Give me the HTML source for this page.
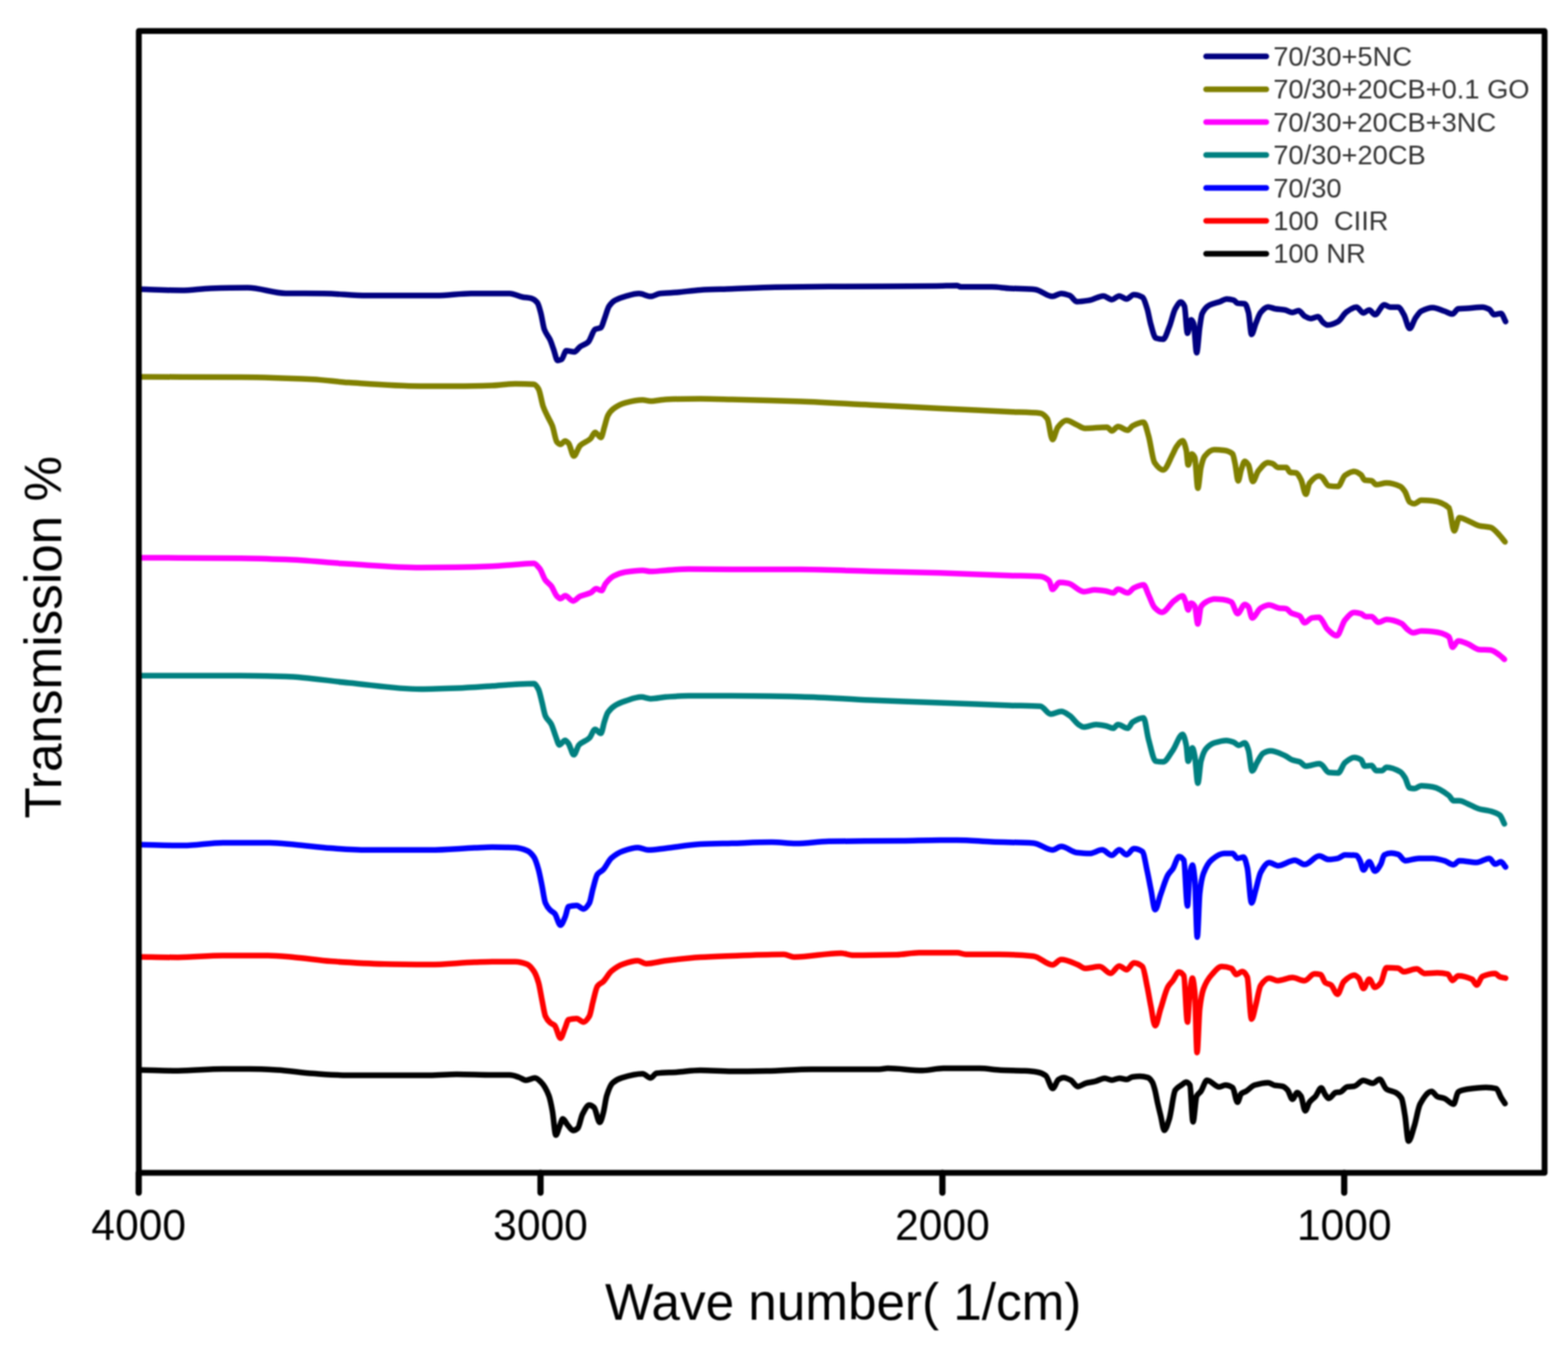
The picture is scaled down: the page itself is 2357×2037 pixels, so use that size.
<!DOCTYPE html>
<html><head><meta charset="utf-8"><title>FTIR spectra</title>
<style>
html,body{margin:0;padding:0;background:#fff;}
body{width:2357px;height:2037px;overflow:hidden;}
svg{display:block;filter:blur(0.8px);}
text{font-family:"Liberation Sans",Arial,Helvetica,sans-serif;}
</style></head><body>
<svg width="2357" height="2037" viewBox="0 0 2357 2037">
<rect x="0" y="0" width="2357" height="2037" fill="#ffffff"/>

<g fill="none" stroke-width="8.5" stroke-linejoin="round" stroke-linecap="round">
<path stroke="#000080" d="M210.4,434.7C231.3,435.3 252.1,436.5 273.0,436.5C287.7,436.5 302.3,433.8 317.0,433.4C335.3,432.9 353.7,432.6 372.0,432.6C391.1,432.6 410.2,440.7 429.3,440.9C448.4,441.1 467.6,441.0 486.7,441.2C508.4,441.4 530.1,444.3 551.8,444.3C586.5,444.3 621.3,444.3 656.0,444.3C673.3,444.3 690.7,441.2 708.0,441.2C718.7,441.2 729.3,441.3 740.0,441.3C748.7,441.3 757.3,441.3 766.0,441.3C772.4,441.3 778.8,445.3 785.2,446.5C789.8,447.4 794.4,447.4 799.0,448.6C801.9,449.4 804.9,451.5 807.8,455.2C809.5,457.4 811.3,464.5 813.0,470.8C814.7,477.1 816.5,490.4 818.2,495.1C821.1,502.9 824.0,504.4 826.9,510.8C828.6,514.6 830.3,520.0 832.0,524.7C834.1,530.4 836.1,542.0 838.2,542.0C840.2,542.0 842.2,541.3 844.2,540.3C846.5,539.2 848.9,527.3 851.2,527.3C855.3,527.3 859.3,529.0 863.4,529.0C866.3,529.0 869.1,523.2 872.0,521.2C876.1,518.3 880.1,517.8 884.2,514.2C887.7,511.1 891.1,496.8 894.6,495.1C897.5,493.6 900.4,494.2 903.3,492.5C905.0,491.5 906.8,484.0 908.5,479.5C910.8,473.4 913.2,463.9 915.5,460.4C918.4,456.1 921.3,453.4 924.2,451.7C929.4,448.7 934.6,447.0 939.8,445.6C946.7,443.7 953.7,441.3 960.6,441.3C966.4,441.3 972.2,445.6 978.0,445.6C982.6,445.6 987.3,441.9 991.9,441.3C1000.6,440.3 1009.3,440.2 1018.0,439.5C1029.6,438.6 1041.1,436.6 1052.7,436.0C1068.5,435.1 1084.2,434.9 1100.0,434.3C1121.7,433.5 1143.3,432.2 1165.0,431.8C1192.0,431.3 1219.0,431.0 1246.0,430.8C1299.8,430.4 1353.7,430.5 1407.5,430.0C1417.9,429.9 1428.4,429.2 1438.8,429.2C1440.5,429.2 1442.3,431.3 1444.0,431.3C1459.7,431.3 1475.3,431.3 1491.0,431.3C1499.7,431.3 1508.3,432.9 1517.0,433.4C1530.0,434.2 1543.0,434.1 1556.0,435.2C1564.7,436.0 1573.3,445.6 1582.0,445.6C1586.3,445.6 1590.7,441.2 1595.0,441.2C1599.3,441.2 1603.7,442.7 1608.0,444.3C1611.5,445.6 1615.1,453.4 1618.6,453.4C1625.2,453.4 1631.7,452.3 1638.3,451.3C1645.0,450.2 1651.8,444.9 1658.5,444.9C1662.8,444.9 1667.0,450.4 1671.3,450.4C1675.0,450.4 1678.7,444.9 1682.4,444.9C1686.1,444.9 1689.7,449.5 1693.4,449.5C1697.1,449.5 1700.7,443.1 1704.4,443.1C1708.7,443.1 1712.9,444.4 1717.2,446.8C1719.6,448.2 1722.1,456.6 1724.5,464.2C1726.3,469.9 1728.2,481.8 1730.0,488.0C1732.5,496.4 1734.9,507.4 1737.4,508.2C1741.1,509.4 1744.7,510.0 1748.4,510.0C1751.4,510.0 1754.5,499.0 1757.5,491.7C1760.6,484.3 1763.6,469.5 1766.7,464.2C1769.5,459.4 1772.2,454.1 1775.0,454.1C1776.8,454.1 1778.7,456.6 1780.5,460.5C1782.0,463.7 1783.5,500.9 1785.0,500.9C1786.8,500.9 1788.7,480.7 1790.5,480.7C1791.7,480.7 1793.0,483.1 1794.2,486.2C1795.7,490.0 1797.3,530.2 1798.8,530.2C1800.3,530.2 1801.9,501.9 1803.4,491.7C1804.6,483.7 1805.8,474.1 1807.0,471.5C1810.7,463.6 1814.3,460.7 1818.0,458.7C1823.5,455.7 1829.1,455.2 1834.6,453.2C1837.6,452.1 1840.7,449.5 1843.7,449.5C1847.4,449.5 1851.0,450.2 1854.7,451.3C1856.5,451.8 1858.4,455.6 1860.2,455.9C1863.9,456.5 1867.5,456.2 1871.2,456.8C1873.0,457.1 1874.9,463.1 1876.7,469.7C1878.2,475.2 1879.8,502.7 1881.3,502.7C1883.4,502.7 1885.6,491.3 1887.7,486.2C1890.1,480.3 1892.6,472.5 1895.0,469.7C1898.7,465.4 1902.3,461.4 1906.0,461.4C1909.7,461.4 1913.3,463.6 1917.0,464.2C1921.9,465.0 1926.9,465.1 1931.8,466.0C1935.5,466.7 1939.1,469.7 1942.8,469.7C1945.9,469.7 1948.9,466.9 1952.0,466.9C1955.0,466.9 1958.0,473.5 1961.0,475.2C1964.1,476.9 1967.2,478.9 1970.3,478.9C1974.0,478.9 1977.6,476.1 1981.3,476.1C1983.7,476.1 1986.2,482.5 1988.6,484.4C1990.9,486.2 1993.3,488.6 1995.6,488.6C2000.8,488.6 2006.1,486.2 2011.3,483.4C2015.3,481.3 2019.4,472.4 2023.4,469.5C2028.6,465.8 2033.8,461.7 2039.0,461.7C2042.5,461.7 2046.0,470.4 2049.5,470.4C2052.4,470.4 2055.3,466.0 2058.2,466.0C2061.1,466.0 2064.0,473.0 2066.9,473.0C2071.5,473.0 2076.2,458.2 2080.8,458.2C2083.7,458.2 2086.6,461.7 2089.5,461.7C2093.5,461.7 2097.6,461.7 2101.6,461.7C2104.5,461.7 2107.4,468.1 2110.3,473.0C2113.2,477.9 2116.1,493.8 2119.0,493.8C2121.9,493.8 2124.8,482.4 2127.7,478.2C2130.6,474.0 2133.5,469.3 2136.4,467.8C2142.2,464.8 2147.9,462.5 2153.7,462.5C2159.5,462.5 2165.3,465.9 2171.1,467.8C2175.2,469.1 2179.2,472.1 2183.3,472.1C2186.2,472.1 2189.1,464.7 2192.0,464.3C2196.6,463.7 2201.3,463.7 2205.9,463.4C2213.4,462.9 2220.9,461.7 2228.4,461.7C2231.9,461.7 2235.4,463.3 2238.9,465.1C2241.2,466.3 2243.5,473.0 2245.8,473.0C2249.3,473.0 2252.7,471.2 2256.2,471.2C2258.5,471.2 2260.9,479.3 2263.2,483.4"/>
<path stroke="#808000" d="M210.8,566.5C261.2,566.7 311.6,566.7 362.0,567.0C398.0,567.2 434.0,568.6 470.0,570.3C488.0,571.2 506.0,573.9 524.0,575.1C560.0,577.5 596.0,580.5 632.0,580.5C650.2,580.5 668.3,580.5 686.5,580.5C704.3,580.5 722.2,580.1 740.0,579.5C751.6,579.1 763.1,576.9 774.7,576.9C784.0,576.9 793.2,577.1 802.5,577.8C804.8,578.0 807.2,581.0 809.5,584.7C811.8,588.3 814.1,604.3 816.4,610.8C818.7,617.3 821.1,621.5 823.4,626.4C825.7,631.3 828.0,634.4 830.3,640.3C832.6,646.3 835.0,662.2 837.3,664.7C839.0,666.5 840.8,668.1 842.5,668.1C844.8,668.1 847.2,662.9 849.5,662.9C851.2,662.9 853.0,664.6 854.7,666.4C857.3,669.0 859.9,685.5 862.5,685.5C865.7,685.5 868.8,673.0 872.0,669.9C877.2,664.8 882.5,664.4 887.7,659.5C890.0,657.3 892.3,649.9 894.6,649.9C897.5,649.9 900.4,657.7 903.3,657.7C905.0,657.7 906.8,647.6 908.5,642.1C910.2,636.6 912.0,627.9 913.7,624.7C916.6,619.4 919.5,616.4 922.4,614.3C928.2,610.0 934.0,607.1 939.8,605.6C948.5,603.4 957.2,601.3 965.9,601.3C969.9,601.3 974.0,603.0 978.0,603.0C985.5,603.0 993.1,600.7 1000.6,600.4C1018.0,599.8 1035.3,599.5 1052.7,599.5C1068.5,599.5 1084.2,600.1 1100.0,600.5C1134.7,601.3 1169.5,602.2 1204.2,603.5C1239.0,604.8 1273.7,607.0 1308.5,608.7C1343.2,610.4 1378.0,612.2 1412.7,613.9C1447.5,615.6 1482.2,617.5 1517.0,619.1C1532.6,619.8 1548.3,619.6 1563.9,621.2C1567.4,621.6 1570.8,624.7 1574.3,629.5C1576.9,633.1 1579.5,660.8 1582.1,660.8C1584.7,660.8 1587.4,645.8 1590.0,642.5C1594.3,637.1 1598.7,632.1 1603.0,632.1C1608.2,632.1 1613.4,636.4 1618.6,638.6C1622.7,640.4 1626.9,644.0 1631.0,644.0C1642.0,644.0 1653.0,642.2 1664.0,642.2C1666.4,642.2 1668.9,647.7 1671.3,647.7C1674.4,647.7 1677.4,641.3 1680.5,641.3C1685.4,641.3 1690.3,646.8 1695.2,646.8C1697.6,646.8 1700.1,641.6 1702.5,640.3C1708.0,637.5 1713.5,634.8 1719.0,634.8C1721.5,634.8 1723.9,646.7 1726.4,655.0C1729.4,665.2 1732.5,690.9 1735.5,695.4C1739.8,701.8 1744.1,706.4 1748.4,706.4C1753.3,706.4 1758.1,691.4 1763.0,682.5C1764.8,679.1 1766.7,674.0 1768.5,671.5C1771.6,667.3 1774.6,662.4 1777.7,662.4C1779.5,662.4 1781.4,669.3 1783.2,677.0C1784.1,680.9 1785.1,699.0 1786.0,699.0C1787.8,699.0 1789.7,682.5 1791.5,682.5C1793.0,682.5 1794.5,684.7 1796.0,688.0C1797.5,691.3 1799.1,733.9 1800.6,733.9C1802.1,733.9 1803.7,709.2 1805.2,702.7C1807.0,695.0 1808.9,688.5 1810.7,686.2C1815.6,680.1 1820.5,676.1 1825.4,676.1C1830.3,676.1 1835.1,676.5 1840.0,677.0C1844.3,677.5 1848.6,678.6 1852.9,682.5C1854.1,683.6 1855.4,691.5 1856.6,697.2C1858.1,704.3 1859.7,722.9 1861.2,722.9C1862.7,722.9 1864.2,710.7 1865.7,706.4C1867.5,701.1 1869.4,693.5 1871.2,693.5C1873.0,693.5 1874.9,696.1 1876.7,699.0C1878.9,702.4 1881.0,723.8 1883.2,723.8C1885.9,723.8 1888.7,711.6 1891.4,708.2C1896.3,702.1 1901.1,695.4 1906.0,695.4C1908.5,695.4 1910.9,696.3 1913.4,697.2C1915.9,698.1 1918.3,702.7 1920.8,702.7C1925.1,702.7 1929.3,702.7 1933.6,702.7C1935.4,702.7 1937.3,709.6 1939.1,710.0C1942.2,710.7 1945.2,710.4 1948.3,711.0C1950.7,711.5 1953.2,716.4 1955.6,721.0C1958.1,725.6 1960.5,743.0 1963.0,743.0C1964.8,743.0 1966.6,728.9 1968.4,726.5C1973.3,720.0 1978.1,715.5 1983.0,715.5C1984.3,715.5 1985.7,716.5 1987.0,717.4C1990.5,719.6 1993.9,730.0 1997.4,730.4C2002.0,731.0 2006.7,731.3 2011.3,731.3C2014.8,731.3 2018.2,717.1 2021.7,714.7C2026.3,711.5 2031.0,708.7 2035.6,708.7C2039.1,708.7 2042.5,711.1 2046.0,713.9C2047.7,715.3 2049.5,721.4 2051.2,721.7C2054.7,722.3 2058.2,722.0 2061.7,722.6C2064.0,723.0 2066.3,728.6 2068.6,728.6C2073.8,728.6 2079.0,726.0 2084.2,726.0C2091.1,726.0 2098.1,728.1 2105.0,731.3C2107.3,732.4 2109.7,735.6 2112.0,739.1C2114.3,742.6 2116.7,753.2 2119.0,754.7C2121.3,756.2 2123.7,757.3 2126.0,757.3C2129.5,757.3 2132.9,752.1 2136.4,752.1C2142.2,752.1 2147.9,752.5 2153.7,753.0C2161.8,753.7 2169.9,756.1 2178.0,763.4C2180.6,765.8 2183.3,798.1 2185.9,798.1C2188.5,798.1 2191.1,778.2 2193.7,778.2C2197.8,778.2 2201.8,780.9 2205.9,782.5C2211.7,784.8 2217.4,789.0 2223.2,790.3C2229.0,791.6 2234.8,791.4 2240.6,792.9C2245.2,794.1 2249.9,800.3 2254.5,805.1C2257.1,807.8 2259.7,811.4 2262.3,814.6"/>
<path stroke="#FF00FF" d="M210.8,838.4C261.2,838.7 311.6,838.7 362.0,839.2C384.6,839.4 407.1,840.2 429.7,841.1C461.2,842.3 492.8,845.9 524.3,847.8C560.3,849.9 596.4,853.2 632.4,853.2C650.4,853.2 668.5,852.9 686.5,852.7C704.3,852.5 722.2,852.0 740.0,851.3C751.6,850.8 763.1,849.5 774.7,848.7C784.0,848.1 793.2,846.9 802.5,846.9C805.4,846.9 808.3,851.1 811.2,854.7C814.1,858.3 817.0,868.2 819.9,872.1C822.8,876.0 825.7,877.1 828.6,880.8C831.5,884.5 834.4,893.7 837.3,896.4C839.0,898.0 840.8,899.9 842.5,899.9C844.8,899.9 847.2,895.6 849.5,895.6C853.5,895.6 857.6,903.4 861.6,903.4C865.1,903.4 868.5,898.0 872.0,896.4C877.2,894.0 882.5,893.6 887.7,891.2C890.6,889.8 893.5,885.1 896.4,885.1C899.0,885.1 901.6,887.8 904.2,887.8C906.2,887.8 908.3,879.8 910.3,877.3C914.3,872.3 918.4,868.1 922.4,866.0C928.2,863.0 934.0,860.9 939.8,860.0C948.5,858.6 957.2,857.4 965.9,857.4C969.9,857.4 974.0,859.1 978.0,859.1C985.5,859.1 993.1,857.9 1000.6,857.4C1012.2,856.7 1023.7,855.6 1035.3,855.6C1056.9,855.6 1078.4,856.0 1100.0,856.0C1134.7,856.1 1169.5,856.0 1204.2,856.1C1239.0,856.2 1273.7,857.8 1308.5,858.7C1343.2,859.6 1378.0,860.3 1412.7,861.3C1447.5,862.3 1482.2,864.1 1517.0,865.2C1532.6,865.7 1548.3,865.5 1563.9,866.5C1568.3,866.8 1572.6,869.0 1577.0,873.0C1578.7,874.6 1580.4,886.0 1582.1,886.0C1585.6,886.0 1589.1,875.6 1592.6,875.6C1596.9,875.6 1601.3,876.2 1605.6,876.9C1613.5,878.1 1621.3,889.4 1629.2,889.4C1634.7,889.4 1640.2,886.7 1645.7,886.7C1651.2,886.7 1656.7,887.6 1662.2,888.5C1665.9,889.1 1669.5,891.3 1673.2,891.3C1675.6,891.3 1678.1,885.8 1680.5,885.8C1685.4,885.8 1690.3,891.3 1695.2,891.3C1698.3,891.3 1701.3,885.3 1704.4,883.9C1709.3,881.6 1714.1,879.3 1719.0,879.3C1721.5,879.3 1723.9,888.9 1726.4,894.0C1729.4,900.2 1732.5,910.2 1735.5,913.3C1739.2,917.1 1742.8,920.6 1746.5,920.6C1752.6,920.6 1758.8,907.5 1764.9,903.2C1769.2,900.2 1773.4,895.8 1777.7,895.8C1779.2,895.8 1780.8,901.2 1782.3,905.0C1783.5,908.1 1784.8,916.9 1786.0,916.9C1787.5,916.9 1789.0,906.8 1790.5,906.8C1792.3,906.8 1794.2,908.7 1796.0,911.4C1797.5,913.7 1799.1,938.0 1800.6,938.0C1802.1,938.0 1803.7,914.9 1805.2,912.3C1808.3,907.2 1811.3,905.6 1814.4,904.1C1818.1,902.3 1821.7,900.4 1825.4,900.4C1829.7,900.4 1833.9,900.8 1838.2,901.3C1842.5,901.8 1846.7,902.8 1851.0,905.0C1854.1,906.6 1857.1,922.4 1860.2,922.4C1863.9,922.4 1867.5,908.7 1871.2,908.7C1873.0,908.7 1874.9,910.3 1876.7,912.3C1878.5,914.3 1880.4,928.9 1882.2,928.9C1886.5,928.9 1890.7,916.5 1895.0,914.2C1899.3,911.9 1903.6,909.6 1907.9,909.6C1912.8,909.6 1917.7,913.6 1922.6,914.2C1926.3,914.7 1929.9,914.5 1933.6,915.1C1936.0,915.5 1938.5,920.2 1940.9,921.5C1945.2,923.8 1949.5,923.5 1953.8,926.1C1956.2,927.6 1958.7,936.2 1961.1,936.2C1964.8,936.2 1968.4,929.5 1972.1,928.9C1975.8,928.3 1979.4,927.9 1983.1,927.9C1984.4,927.9 1985.7,930.5 1987.0,932.1C1989.9,935.7 1992.7,943.1 1995.6,946.0C2000.2,950.6 2004.9,955.6 2009.5,955.6C2013.6,955.6 2017.6,936.8 2021.7,932.1C2026.3,926.8 2031.0,920.8 2035.6,920.8C2039.1,920.8 2042.5,921.6 2046.0,922.6C2048.3,923.3 2050.7,926.9 2053.0,926.9C2055.9,926.9 2058.8,926.9 2061.7,926.9C2065.1,926.9 2068.6,935.6 2072.0,935.6C2076.1,935.6 2080.1,931.3 2084.2,931.3C2091.7,931.3 2099.3,933.8 2106.8,937.3C2109.7,938.6 2112.6,943.8 2115.5,946.0C2118.4,948.2 2121.3,951.2 2124.2,951.2C2128.3,951.2 2132.3,948.6 2136.4,948.6C2142.2,948.6 2147.9,949.0 2153.7,949.5C2161.8,950.2 2169.9,951.6 2178.0,957.3C2179.8,958.5 2181.5,973.0 2183.3,973.0C2186.2,973.0 2189.1,963.4 2192.0,963.4C2196.6,963.4 2201.3,965.9 2205.9,967.7C2211.7,969.9 2217.4,975.9 2223.2,976.4C2229.0,976.9 2234.8,976.7 2240.6,977.3C2245.2,977.8 2249.9,981.8 2254.5,985.1C2256.8,986.7 2259.1,989.2 2261.4,991.2"/>
<path stroke="#008080" d="M210.8,1015.7C261.2,1015.7 311.6,1015.7 362.0,1015.7C384.6,1015.7 407.1,1016.3 429.7,1017.0C461.2,1018.0 492.8,1023.5 524.3,1026.5C560.3,1029.9 596.4,1036.0 632.4,1036.0C650.4,1036.0 668.5,1035.3 686.5,1034.6C704.3,1033.9 722.2,1032.5 740.0,1031.3C751.6,1030.5 763.1,1029.2 774.7,1028.7C784.0,1028.3 793.2,1027.8 802.5,1027.8C804.8,1027.8 807.2,1032.1 809.5,1036.5C811.2,1039.8 813.0,1049.0 814.7,1055.6C816.4,1062.2 818.2,1072.6 819.9,1076.4C822.8,1082.7 825.7,1083.2 828.6,1088.6C830.9,1093.0 833.3,1101.8 835.6,1107.7C837.3,1112.1 839.1,1119.9 840.8,1119.9C843.7,1119.9 846.6,1112.9 849.5,1112.9C851.2,1112.9 853.0,1115.8 854.7,1118.1C857.3,1121.5 859.9,1134.6 862.5,1134.6C865.1,1134.6 867.7,1122.6 870.3,1119.9C875.5,1114.5 880.7,1114.5 885.9,1109.5C888.8,1106.7 891.7,1096.4 894.6,1096.4C897.5,1096.4 900.4,1102.5 903.3,1102.5C905.0,1102.5 906.8,1090.3 908.5,1085.1C910.2,1079.9 912.0,1073.8 913.7,1071.2C917.2,1065.9 920.7,1063.0 924.2,1060.8C929.4,1057.5 934.6,1055.6 939.8,1053.9C947.9,1051.3 956.0,1047.8 964.1,1047.8C968.7,1047.8 973.4,1050.4 978.0,1050.4C985.5,1050.4 993.1,1048.4 1000.6,1047.8C1012.2,1047.0 1023.7,1046.0 1035.3,1046.0C1056.9,1046.0 1078.4,1046.0 1100.0,1046.0C1134.7,1046.0 1169.5,1046.7 1204.2,1047.4C1239.0,1048.1 1273.7,1051.1 1308.5,1052.6C1343.2,1054.1 1378.0,1055.2 1412.7,1056.5C1447.5,1057.8 1482.2,1059.3 1517.0,1060.4C1532.6,1060.9 1548.3,1060.7 1563.9,1061.7C1569.1,1062.0 1574.3,1073.4 1579.5,1073.4C1584.7,1073.4 1590.0,1069.5 1595.2,1069.5C1599.5,1069.5 1603.9,1073.1 1608.2,1076.0C1612.5,1078.9 1616.9,1086.3 1621.2,1089.1C1623.9,1090.8 1626.5,1093.0 1629.2,1093.0C1635.3,1093.0 1641.4,1089.3 1647.5,1089.3C1652.4,1089.3 1657.3,1090.3 1662.2,1091.2C1665.9,1091.9 1669.5,1094.8 1673.2,1094.8C1675.6,1094.8 1678.1,1089.3 1680.5,1089.3C1685.4,1089.3 1690.3,1094.8 1695.2,1094.8C1697.6,1094.8 1700.1,1087.2 1702.5,1085.7C1708.0,1082.2 1713.5,1079.3 1719.0,1079.3C1721.5,1079.3 1723.9,1102.4 1726.4,1111.3C1730.1,1124.5 1733.7,1143.8 1737.4,1144.4C1741.1,1145.0 1744.7,1145.3 1748.4,1145.3C1753.3,1145.3 1758.1,1134.6 1763.0,1127.9C1767.9,1121.2 1772.8,1104.0 1777.7,1104.0C1779.5,1104.0 1781.4,1111.9 1783.2,1120.5C1784.1,1124.9 1785.1,1144.4 1786.0,1144.4C1788.1,1144.4 1790.3,1124.2 1792.4,1124.2C1793.6,1124.2 1794.8,1131.0 1796.0,1137.0C1797.5,1144.6 1799.1,1177.4 1800.6,1177.4C1802.1,1177.4 1803.7,1150.3 1805.2,1144.4C1807.7,1134.9 1810.1,1128.9 1812.6,1126.0C1816.9,1121.0 1821.1,1118.2 1825.4,1116.8C1831.5,1114.9 1837.6,1113.2 1843.7,1113.2C1847.4,1113.2 1851.0,1114.6 1854.7,1115.9C1857.2,1116.8 1859.6,1120.5 1862.1,1120.5C1865.1,1120.5 1868.2,1116.8 1871.2,1116.8C1873.0,1116.8 1874.9,1122.4 1876.7,1127.9C1878.5,1133.4 1880.4,1159.0 1882.2,1159.0C1884.7,1159.0 1887.1,1150.2 1889.6,1146.2C1892.6,1141.3 1895.7,1134.1 1898.7,1132.4C1902.4,1130.4 1906.0,1128.8 1909.7,1128.8C1917.1,1128.8 1924.4,1132.9 1931.8,1136.1C1935.5,1137.7 1939.1,1141.2 1942.8,1142.5C1946.5,1143.8 1950.1,1143.9 1953.8,1145.3C1956.8,1146.5 1959.9,1151.7 1962.9,1151.7C1969.6,1151.7 1976.4,1148.0 1983.1,1148.0C1984.4,1148.0 1985.7,1149.1 1987.0,1150.0C1990.5,1152.3 1993.9,1160.9 1997.4,1161.3C2002.0,1161.8 2006.7,1162.1 2011.3,1162.1C2014.8,1162.1 2018.2,1149.4 2021.7,1146.5C2026.3,1142.6 2031.0,1138.7 2035.6,1138.7C2039.1,1138.7 2042.5,1140.0 2046.0,1142.1C2047.7,1143.1 2049.5,1151.7 2051.2,1151.7C2054.7,1151.7 2058.2,1150.8 2061.7,1150.8C2064.0,1150.8 2066.3,1158.6 2068.6,1158.6C2071.5,1158.6 2074.4,1158.6 2077.3,1158.6C2079.6,1158.6 2081.9,1153.4 2084.2,1153.4C2091.1,1153.4 2098.1,1156.3 2105.0,1160.4C2107.3,1161.8 2109.7,1165.4 2112.0,1169.1C2114.3,1172.8 2116.7,1184.1 2119.0,1184.7C2121.3,1185.3 2123.7,1185.6 2126.0,1185.6C2129.5,1185.6 2132.9,1181.2 2136.4,1181.2C2142.2,1181.2 2147.9,1182.0 2153.7,1183.0C2161.8,1184.4 2169.9,1189.7 2178.0,1196.0C2180.3,1197.8 2182.7,1203.8 2185.0,1203.8C2187.9,1203.8 2190.8,1203.8 2193.7,1203.8C2197.8,1203.8 2201.8,1206.6 2205.9,1208.2C2211.7,1210.5 2217.4,1214.4 2223.2,1216.0C2229.0,1217.6 2234.8,1217.9 2240.6,1219.5C2245.2,1220.8 2249.9,1222.0 2254.5,1225.5C2256.8,1227.2 2259.1,1234.2 2261.4,1238.6"/>
<path stroke="#0000FF" d="M210.8,1269.7C232.4,1270.2 254.1,1271.1 275.7,1271.1C295.5,1271.1 315.2,1267.0 335.0,1267.0C358.5,1267.0 381.9,1267.0 405.4,1267.0C418.0,1267.0 430.6,1268.7 443.2,1269.7C461.2,1271.2 479.3,1273.9 497.3,1275.1C515.3,1276.3 533.4,1277.8 551.4,1277.8C582.9,1277.8 614.5,1277.8 646.0,1277.8C668.5,1277.8 691.0,1275.6 713.5,1274.6C722.3,1274.2 731.2,1273.5 740.0,1273.5C751.6,1273.5 763.1,1273.8 774.7,1274.3C780.5,1274.6 786.3,1276.3 792.1,1278.7C795.6,1280.1 799.0,1283.3 802.5,1288.2C804.8,1291.5 807.2,1299.1 809.5,1307.3C811.2,1313.4 813.0,1323.3 814.7,1331.7C816.4,1340.1 818.2,1353.6 819.9,1357.7C822.2,1363.2 824.6,1365.8 826.9,1368.1C829.2,1370.4 831.5,1370.8 833.8,1373.3C836.7,1376.4 839.6,1390.7 842.5,1390.7C844.8,1390.7 847.2,1383.8 849.5,1378.6C851.2,1374.7 853.0,1363.4 854.7,1362.9C858.7,1361.7 862.8,1361.2 866.8,1361.2C870.3,1361.2 873.7,1366.4 877.2,1366.4C880.1,1366.4 883.0,1362.6 885.9,1357.7C887.6,1354.8 889.4,1343.1 891.1,1336.9C893.4,1328.5 895.8,1317.4 898.1,1314.3C901.0,1310.5 903.9,1310.2 906.8,1307.3C910.9,1303.2 914.9,1293.5 919.0,1290.0C924.8,1285.0 930.5,1281.5 936.3,1279.5C943.8,1276.9 951.4,1274.3 958.9,1274.3C964.1,1274.3 969.3,1277.8 974.5,1277.8C983.2,1277.8 991.9,1276.1 1000.6,1275.2C1018.0,1273.3 1035.3,1269.9 1052.7,1269.1C1068.5,1268.4 1084.2,1268.2 1100.0,1267.8C1120.0,1267.2 1140.0,1266.1 1160.0,1266.1C1172.1,1266.1 1184.3,1268.1 1196.4,1268.1C1212.9,1268.1 1229.5,1265.0 1246.0,1264.8C1282.5,1264.3 1318.9,1264.4 1355.4,1264.0C1374.5,1263.8 1393.6,1262.9 1412.7,1262.9C1421.4,1262.9 1430.1,1262.9 1438.8,1262.9C1456.2,1262.9 1473.6,1264.8 1491.0,1265.5C1511.8,1266.3 1532.7,1266.1 1553.5,1267.4C1563.0,1268.0 1572.6,1277.8 1582.1,1277.8C1586.5,1277.8 1590.8,1272.6 1595.2,1272.6C1603.0,1272.6 1610.8,1280.8 1618.6,1281.7C1625.2,1282.5 1631.7,1283.1 1638.3,1283.1C1644.4,1283.1 1650.6,1277.6 1656.7,1277.6C1661.6,1277.6 1666.4,1285.8 1671.3,1285.8C1675.0,1285.8 1678.7,1277.6 1682.4,1277.6C1686.1,1277.6 1689.7,1284.9 1693.4,1284.9C1697.1,1284.9 1700.7,1275.8 1704.4,1275.8C1708.7,1275.8 1712.9,1277.3 1717.2,1280.3C1719.6,1282.0 1722.1,1298.8 1724.5,1309.7C1726.3,1317.9 1728.2,1328.3 1730.0,1337.2C1732.1,1347.6 1734.3,1367.5 1736.4,1367.5C1739.2,1367.5 1741.9,1352.0 1744.7,1344.5C1748.4,1334.5 1752.0,1321.3 1755.7,1315.2C1758.1,1311.1 1760.6,1309.7 1763.0,1306.0C1766.1,1301.3 1769.1,1287.7 1772.2,1287.7C1774.6,1287.7 1777.1,1289.6 1779.5,1293.2C1781.3,1295.9 1783.2,1362.0 1785.0,1362.0C1785.9,1362.0 1786.9,1327.3 1787.8,1320.7C1789.3,1309.8 1790.9,1300.5 1792.4,1300.5C1793.6,1300.5 1794.8,1310.9 1796.0,1322.5C1797.2,1334.4 1798.5,1408.7 1799.7,1408.7C1800.9,1408.7 1802.2,1353.2 1803.4,1342.7C1805.2,1327.1 1807.1,1318.4 1808.9,1313.4C1813.2,1301.8 1817.4,1295.7 1821.7,1292.3C1827.8,1287.4 1833.9,1283.1 1840.0,1283.1C1844.3,1283.1 1848.6,1283.1 1852.9,1283.1C1855.3,1283.1 1857.8,1290.4 1860.2,1290.4C1863.3,1290.4 1866.3,1288.6 1869.4,1288.6C1871.2,1288.6 1873.1,1296.5 1874.9,1304.2C1877.0,1313.1 1879.2,1357.4 1881.3,1357.4C1883.4,1357.4 1885.6,1344.3 1887.7,1337.2C1890.1,1329.1 1892.6,1315.9 1895.0,1311.5C1899.3,1303.7 1903.6,1296.8 1907.9,1296.8C1912.2,1296.8 1916.5,1301.4 1920.8,1301.4C1929.3,1301.4 1937.9,1293.2 1946.4,1293.2C1951.3,1293.2 1956.2,1299.6 1961.1,1299.6C1968.4,1299.6 1975.8,1286.8 1983.1,1286.8C1987.9,1286.8 1992.6,1292.1 1997.4,1292.1C2002.0,1292.1 2006.7,1291.3 2011.3,1290.4C2014.8,1289.7 2018.2,1285.2 2021.7,1285.2C2027.5,1285.2 2033.3,1285.4 2039.1,1286.0C2040.8,1286.2 2042.6,1290.5 2044.3,1293.9C2046.0,1297.3 2047.8,1307.8 2049.5,1307.8C2052.4,1307.8 2055.3,1295.6 2058.2,1295.6C2061.1,1295.6 2064.0,1309.5 2066.9,1309.5C2069.8,1309.5 2072.7,1304.0 2075.6,1299.1C2077.3,1296.1 2079.1,1286.1 2080.8,1285.2C2084.3,1283.5 2087.7,1282.6 2091.2,1282.6C2094.7,1282.6 2098.1,1283.3 2101.6,1284.3C2105.1,1285.3 2108.5,1293.9 2112.0,1293.9C2119.0,1293.9 2125.9,1290.4 2132.9,1290.4C2139.8,1290.4 2146.8,1290.4 2153.7,1290.4C2159.5,1290.4 2165.3,1292.3 2171.1,1293.9C2175.7,1295.2 2180.4,1299.9 2185.0,1299.9C2187.9,1299.9 2190.8,1293.9 2193.7,1293.9C2202.4,1293.9 2211.0,1296.5 2219.7,1296.5C2226.1,1296.5 2232.5,1290.4 2238.9,1290.4C2241.8,1290.4 2244.6,1299.1 2247.5,1299.1C2250.4,1299.1 2253.3,1295.6 2256.2,1295.6C2258.5,1295.6 2260.9,1300.8 2263.2,1303.4"/>
<path stroke="#FF0000" d="M210.8,1438.4C229.7,1438.7 248.7,1439.2 267.6,1439.2C290.1,1439.2 312.5,1436.5 335.0,1436.5C357.6,1436.5 380.1,1436.5 402.7,1436.5C416.2,1436.5 429.7,1438.1 443.2,1439.2C461.2,1440.7 479.3,1443.8 497.3,1445.1C524.3,1447.0 551.4,1448.7 578.4,1449.2C600.9,1449.6 623.5,1450.0 646.0,1450.0C668.5,1450.0 691.0,1447.3 713.5,1446.5C722.3,1446.2 731.2,1445.7 740.0,1445.7C751.6,1445.7 763.1,1445.7 774.7,1445.7C780.5,1445.7 786.3,1447.3 792.1,1449.5C795.6,1450.8 799.0,1454.9 802.5,1460.0C804.8,1463.4 807.2,1469.4 809.5,1477.3C811.2,1483.1 813.0,1495.0 814.7,1503.4C816.4,1511.8 818.2,1523.9 819.9,1527.7C822.2,1532.8 824.6,1535.3 826.9,1537.3C829.2,1539.3 831.5,1539.4 833.8,1541.6C836.7,1544.4 839.6,1560.7 842.5,1560.7C844.8,1560.7 847.2,1550.4 849.5,1545.1C851.2,1541.1 853.0,1533.4 854.7,1532.9C858.7,1531.7 862.8,1531.2 866.8,1531.2C870.3,1531.2 873.7,1536.4 877.2,1536.4C880.1,1536.4 883.0,1532.6 885.9,1527.7C887.6,1524.8 889.4,1513.4 891.1,1506.9C893.4,1498.2 895.8,1485.6 898.1,1482.5C901.0,1478.7 903.9,1478.4 906.8,1475.6C910.9,1471.7 914.9,1463.4 919.0,1460.0C924.8,1455.2 930.5,1451.5 936.3,1449.5C943.8,1446.9 951.4,1444.3 958.9,1444.3C963.0,1444.3 967.0,1448.7 971.1,1448.7C980.9,1448.7 990.8,1445.5 1000.6,1444.3C1018.0,1442.2 1035.3,1440.2 1052.7,1439.1C1068.5,1438.1 1084.2,1437.6 1100.0,1437.0C1126.1,1436.1 1152.1,1434.8 1178.2,1434.8C1183.4,1434.8 1188.6,1438.7 1193.8,1438.7C1217.3,1438.7 1240.7,1432.9 1264.2,1432.9C1270.3,1432.9 1276.3,1436.1 1282.4,1436.1C1304.1,1436.1 1325.9,1435.8 1347.6,1435.3C1358.9,1435.0 1370.2,1432.2 1381.5,1432.2C1400.6,1432.2 1419.7,1432.2 1438.8,1432.2C1443.1,1432.2 1447.5,1434.8 1451.8,1434.8C1468.3,1434.8 1484.9,1434.8 1501.4,1434.8C1518.8,1434.8 1536.1,1435.7 1553.5,1437.4C1563.0,1438.3 1572.6,1450.4 1582.1,1450.4C1586.5,1450.4 1590.8,1442.6 1595.2,1442.6C1603.5,1442.6 1611.7,1447.0 1620.0,1450.3C1623.7,1451.7 1627.3,1455.8 1631.0,1455.8C1638.3,1455.8 1645.7,1453.1 1653.0,1453.1C1658.5,1453.1 1664.0,1463.2 1669.5,1463.2C1673.8,1463.2 1678.1,1452.2 1682.4,1452.2C1686.1,1452.2 1689.7,1457.7 1693.4,1457.7C1697.1,1457.7 1700.7,1447.6 1704.4,1447.6C1708.7,1447.6 1712.9,1449.5 1717.2,1453.1C1719.6,1455.1 1722.1,1472.0 1724.5,1483.4C1726.3,1492.0 1728.2,1503.7 1730.0,1512.7C1732.1,1523.2 1734.3,1542.0 1736.4,1542.0C1739.2,1542.0 1741.9,1524.8 1744.7,1516.4C1748.4,1505.2 1752.0,1489.7 1755.7,1483.4C1758.1,1479.2 1760.6,1477.4 1763.0,1474.2C1766.1,1470.1 1769.1,1461.3 1772.2,1461.3C1774.6,1461.3 1777.1,1463.2 1779.5,1466.8C1781.3,1469.5 1783.2,1536.5 1785.0,1536.5C1785.9,1536.5 1786.9,1510.1 1787.8,1501.7C1789.3,1487.9 1790.9,1470.5 1792.4,1470.5C1793.6,1470.5 1794.8,1480.5 1796.0,1492.5C1797.1,1503.8 1798.3,1582.4 1799.4,1582.4C1800.7,1582.4 1802.1,1527.5 1803.4,1516.4C1805.2,1501.2 1807.1,1492.1 1808.9,1487.0C1813.2,1475.1 1817.4,1469.7 1821.7,1465.0C1826.6,1459.6 1831.5,1453.1 1836.4,1453.1C1841.3,1453.1 1846.1,1454.1 1851.0,1455.8C1853.5,1456.7 1855.9,1465.0 1858.4,1465.0C1861.5,1465.0 1864.5,1460.4 1867.6,1460.4C1870.0,1460.4 1872.5,1463.6 1874.9,1468.7C1877.0,1473.1 1879.2,1532.0 1881.3,1532.0C1883.4,1532.0 1885.6,1518.6 1887.7,1510.9C1890.1,1502.1 1892.6,1485.1 1895.0,1481.5C1899.3,1475.1 1903.6,1470.5 1907.9,1470.5C1912.2,1470.5 1916.5,1474.2 1920.8,1474.2C1928.1,1474.2 1935.5,1469.6 1942.8,1469.6C1948.9,1469.6 1955.0,1474.2 1961.1,1474.2C1966.0,1474.2 1970.9,1464.1 1975.8,1464.1C1978.9,1464.1 1982.1,1464.5 1985.2,1465.2C1987.5,1465.7 1989.9,1475.7 1992.2,1477.3C1995.1,1479.2 1997.9,1479.0 2000.8,1480.8C2004.0,1482.8 2007.2,1494.7 2010.4,1494.7C2013.6,1494.7 2016.8,1478.7 2020.0,1475.6C2025.2,1470.5 2030.4,1466.0 2035.6,1466.0C2037.9,1466.0 2040.2,1468.1 2042.5,1470.4C2044.8,1472.7 2047.2,1486.0 2049.5,1486.0C2052.4,1486.0 2055.3,1472.1 2058.2,1472.1C2061.1,1472.1 2064.0,1484.3 2066.9,1484.3C2069.8,1484.3 2072.7,1480.9 2075.6,1477.3C2078.5,1473.8 2081.3,1454.7 2084.2,1454.7C2090.0,1454.7 2095.8,1455.0 2101.6,1455.6C2104.5,1455.9 2107.4,1460.8 2110.3,1460.8C2116.7,1460.8 2123.0,1456.5 2129.4,1456.5C2133.5,1456.5 2137.5,1463.4 2141.6,1463.4C2148.0,1463.4 2154.3,1462.6 2160.7,1462.6C2165.9,1462.6 2171.1,1463.1 2176.3,1464.3C2178.6,1464.8 2181.0,1473.9 2183.3,1473.9C2186.2,1473.9 2189.1,1466.9 2192.0,1466.9C2198.9,1466.9 2205.9,1468.8 2212.8,1472.1C2215.1,1473.2 2217.4,1480.8 2219.7,1480.8C2222.6,1480.8 2225.5,1469.1 2228.4,1467.8C2234.8,1465.0 2241.1,1463.4 2247.5,1463.4C2249.8,1463.4 2252.2,1467.8 2254.5,1468.6C2257.4,1469.6 2260.3,1469.8 2263.2,1470.4"/>
<path stroke="#000000" d="M210.8,1608.4C229.7,1608.8 248.7,1609.7 267.6,1609.7C290.1,1609.7 312.5,1607.0 335.0,1607.0C348.6,1607.0 362.1,1607.0 375.7,1607.0C389.2,1607.0 402.7,1607.7 416.2,1608.4C434.2,1609.3 452.3,1612.6 470.3,1613.8C488.3,1615.0 506.3,1616.5 524.3,1616.5C564.9,1616.5 605.4,1616.5 646.0,1616.5C659.5,1616.5 673.0,1615.1 686.5,1615.1C704.3,1615.1 722.2,1616.1 740.0,1616.1C748.7,1616.1 757.3,1616.1 766.0,1616.1C770.7,1616.1 775.3,1618.0 780.0,1619.5C783.5,1620.6 786.9,1623.9 790.4,1623.9C795.0,1623.9 799.7,1620.4 804.3,1620.4C807.2,1620.4 810.1,1623.7 813.0,1626.5C817.0,1630.4 821.1,1636.8 825.1,1647.3C826.8,1651.8 828.6,1660.7 830.3,1669.9C832.1,1679.3 833.8,1706.4 835.6,1706.4C837.3,1706.4 839.1,1698.2 840.8,1694.2C842.5,1690.2 844.3,1682.1 846.0,1682.1C848.3,1682.1 850.6,1688.2 852.9,1690.8C855.8,1694.0 858.7,1699.5 861.6,1699.5C863.9,1699.5 866.3,1698.0 868.6,1696.0C870.9,1694.0 873.2,1679.5 875.5,1675.1C879.0,1668.5 882.4,1661.2 885.9,1661.2C888.2,1661.2 890.6,1662.8 892.9,1664.7C895.8,1667.1 898.7,1687.3 901.6,1687.3C903.3,1687.3 905.1,1679.4 906.8,1673.4C908.5,1667.4 910.3,1652.8 912.0,1647.3C914.9,1638.1 917.8,1630.9 920.7,1628.2C925.3,1623.9 930.0,1621.8 934.6,1620.4C945.0,1617.2 955.5,1614.3 965.9,1614.3C969.9,1614.3 974.0,1620.4 978.0,1620.4C980.9,1620.4 983.8,1613.9 986.7,1613.5C997.1,1612.2 1007.6,1612.4 1018.0,1611.7C1029.6,1610.9 1041.1,1609.1 1052.7,1609.1C1068.5,1609.1 1084.2,1610.5 1100.0,1610.5C1117.4,1610.5 1134.7,1610.3 1152.1,1610.0C1174.7,1609.7 1197.3,1607.4 1219.9,1607.4C1253.8,1607.4 1287.6,1607.4 1321.5,1607.4C1325.9,1607.4 1330.2,1606.1 1334.6,1606.1C1352.0,1606.1 1369.3,1609.2 1386.7,1609.2C1397.1,1609.2 1407.6,1606.1 1418.0,1606.1C1436.2,1606.1 1454.5,1606.1 1472.7,1606.1C1483.1,1606.1 1493.6,1608.2 1504.0,1608.7C1516.0,1609.2 1528.0,1609.2 1540.0,1609.8C1546.4,1610.1 1552.9,1610.6 1559.3,1611.7C1563.5,1612.4 1567.7,1614.1 1571.9,1617.0C1575.4,1619.5 1579.0,1636.3 1582.5,1636.3C1585.4,1636.3 1588.3,1624.5 1591.2,1622.8C1593.8,1621.3 1596.3,1619.9 1598.9,1619.9C1602.4,1619.9 1606.0,1622.0 1609.5,1623.8C1613.0,1625.6 1616.6,1633.4 1620.1,1633.4C1624.0,1633.4 1627.8,1629.7 1631.7,1628.6C1636.5,1627.3 1641.4,1626.9 1646.2,1625.7C1651.0,1624.5 1655.9,1620.9 1660.7,1620.9C1664.2,1620.9 1667.8,1623.8 1671.3,1623.8C1675.2,1623.8 1679.0,1620.9 1682.9,1620.9C1686.4,1620.9 1690.0,1622.8 1693.5,1622.8C1696.4,1622.8 1699.3,1619.4 1702.2,1619.0C1706.0,1618.4 1709.9,1618.0 1713.7,1618.0C1717.6,1618.0 1721.4,1618.7 1725.3,1619.9C1727.6,1620.6 1729.8,1623.1 1732.1,1626.7C1733.4,1628.7 1734.7,1633.5 1736.0,1638.3C1737.3,1643.2 1738.7,1651.6 1740.0,1657.6C1741.6,1664.6 1743.1,1670.8 1744.7,1677.2C1746.5,1684.7 1748.4,1699.2 1750.2,1699.2C1752.6,1699.2 1755.1,1690.1 1757.5,1682.7C1760.6,1673.4 1763.6,1642.9 1766.7,1638.7C1769.8,1634.5 1772.8,1633.4 1775.9,1631.3C1778.3,1629.6 1780.8,1626.8 1783.2,1626.8C1785.0,1626.8 1786.9,1628.4 1788.7,1631.3C1790.2,1633.7 1791.8,1686.4 1793.3,1686.4C1795.1,1686.4 1797.0,1651.6 1798.8,1647.9C1800.9,1643.6 1803.1,1643.5 1805.2,1640.5C1808.3,1636.2 1811.3,1624.0 1814.4,1624.0C1820.5,1624.0 1826.6,1634.1 1832.7,1634.1C1835.8,1634.1 1838.8,1631.3 1841.9,1631.3C1845.6,1631.3 1849.2,1632.7 1852.9,1635.0C1855.3,1636.6 1857.8,1657.0 1860.2,1657.0C1862.0,1657.0 1863.9,1645.8 1865.7,1644.2C1868.2,1642.1 1870.6,1641.9 1873.1,1640.5C1877.4,1638.0 1881.6,1632.6 1885.9,1631.3C1892.6,1629.3 1899.4,1627.7 1906.1,1627.7C1909.1,1627.7 1912.2,1630.6 1915.2,1631.3C1919.5,1632.2 1923.8,1632.1 1928.1,1633.2C1930.5,1633.8 1933.0,1636.1 1935.4,1638.7C1937.9,1641.3 1940.3,1652.4 1942.8,1652.4C1945.2,1652.4 1947.7,1642.4 1950.1,1642.4C1951.9,1642.4 1953.8,1645.1 1955.6,1647.9C1957.7,1651.2 1959.9,1669.9 1962.0,1669.9C1964.1,1669.9 1966.3,1659.9 1968.4,1657.0C1971.5,1652.8 1974.5,1651.5 1977.6,1647.9C1980.4,1644.6 1983.3,1635.6 1986.1,1635.6C1988.2,1635.6 1990.2,1643.4 1992.3,1646.0C1994.0,1648.1 1995.7,1651.2 1997.4,1651.2C2000.9,1651.2 2004.3,1643.2 2007.8,1642.5C2010.1,1642.1 2012.4,1642.1 2014.7,1641.7C2018.2,1641.0 2021.7,1634.4 2025.2,1633.9C2028.7,1633.4 2032.1,1633.5 2035.6,1633.0C2040.2,1632.3 2044.9,1624.3 2049.5,1624.3C2054.1,1624.3 2058.8,1628.6 2063.4,1628.6C2066.9,1628.6 2070.3,1622.6 2073.8,1622.6C2077.3,1622.6 2080.7,1635.2 2084.2,1637.3C2088.8,1640.1 2093.5,1639.9 2098.1,1642.5C2101.0,1644.1 2103.9,1646.1 2106.8,1651.2C2108.5,1654.3 2110.3,1667.0 2112.0,1677.3C2113.7,1687.6 2115.5,1715.5 2117.2,1715.5C2120.1,1715.5 2123.0,1701.8 2125.9,1692.9C2128.8,1684.0 2131.7,1665.2 2134.6,1659.9C2140.4,1649.4 2146.2,1640.8 2152.0,1640.8C2154.9,1640.8 2157.8,1647.4 2160.7,1648.6C2164.2,1650.0 2167.6,1650.0 2171.1,1651.2C2175.7,1652.8 2180.4,1659.9 2185.0,1659.9C2187.3,1659.9 2189.7,1643.1 2192.0,1641.7C2196.6,1638.8 2201.3,1638.0 2205.9,1637.3C2215.2,1635.9 2224.4,1634.7 2233.7,1634.7C2238.9,1634.7 2244.1,1635.2 2249.3,1636.5C2251.6,1637.1 2253.9,1645.6 2256.2,1649.5C2258.2,1653.0 2260.3,1655.8 2262.3,1659.0"/>
</g>
<rect x="208.7" y="46.7" width="2113.1" height="1716.5" fill="none" stroke="#000" stroke-width="8.8" stroke-linejoin="round"/>
<g stroke="#000" stroke-width="9.4" stroke-linecap="round">
<line x1="208.5" y1="1763.2" x2="208.5" y2="1793"/>
<line x1="812.5" y1="1763.2" x2="812.5" y2="1793"/>
<line x1="1416.6" y1="1763.2" x2="1416.6" y2="1793"/>
<line x1="2020.6" y1="1763.2" x2="2020.6" y2="1793"/>
</g>
<g font-size="64" fill="#000" text-anchor="middle">
<text x="208.5" y="1864.3">4000</text>
<text x="812.5" y="1864.3">3000</text>
<text x="1416.6" y="1864.3">2000</text>
<text x="2020.6" y="1864.3">1000</text>
</g>
<text x="1267.5" y="1983.8" font-size="77" fill="#000" text-anchor="middle">Wave number( 1/cm)</text>
<text transform="translate(92,958) rotate(-90)" x="0" y="0" font-size="77" fill="#000" text-anchor="middle">Transmission %</text>
<g stroke-width="8.5" stroke-linecap="round">
<line x1="1813" y1="84.7" x2="1903.5" y2="84.7" stroke="#000080"/>
<line x1="1813" y1="134.2" x2="1903.5" y2="134.2" stroke="#808000"/>
<line x1="1813" y1="183.6" x2="1903.5" y2="183.6" stroke="#FF00FF"/>
<line x1="1813" y1="233.1" x2="1903.5" y2="233.1" stroke="#008080"/>
<line x1="1813" y1="282.5" x2="1903.5" y2="282.5" stroke="#0000FF"/>
<line x1="1813" y1="331.9" x2="1903.5" y2="331.9" stroke="#FF0000"/>
<line x1="1813" y1="381.4" x2="1903.5" y2="381.4" stroke="#000000"/>
</g>
<g font-size="41" fill="#333" style="white-space:pre">
<text x="1914" y="98.7" xml:space="preserve">70/30+5NC</text>
<text x="1914" y="148.2" xml:space="preserve">70/30+20CB+0.1 GO</text>
<text x="1914" y="197.6" xml:space="preserve">70/30+20CB+3NC</text>
<text x="1914" y="247.1" xml:space="preserve">70/30+20CB</text>
<text x="1914" y="296.5" xml:space="preserve">70/30</text>
<text x="1914" y="345.9" xml:space="preserve">100  CIIR</text>
<text x="1914" y="395.4" xml:space="preserve">100 NR</text>
</g>
</svg>
</body></html>
